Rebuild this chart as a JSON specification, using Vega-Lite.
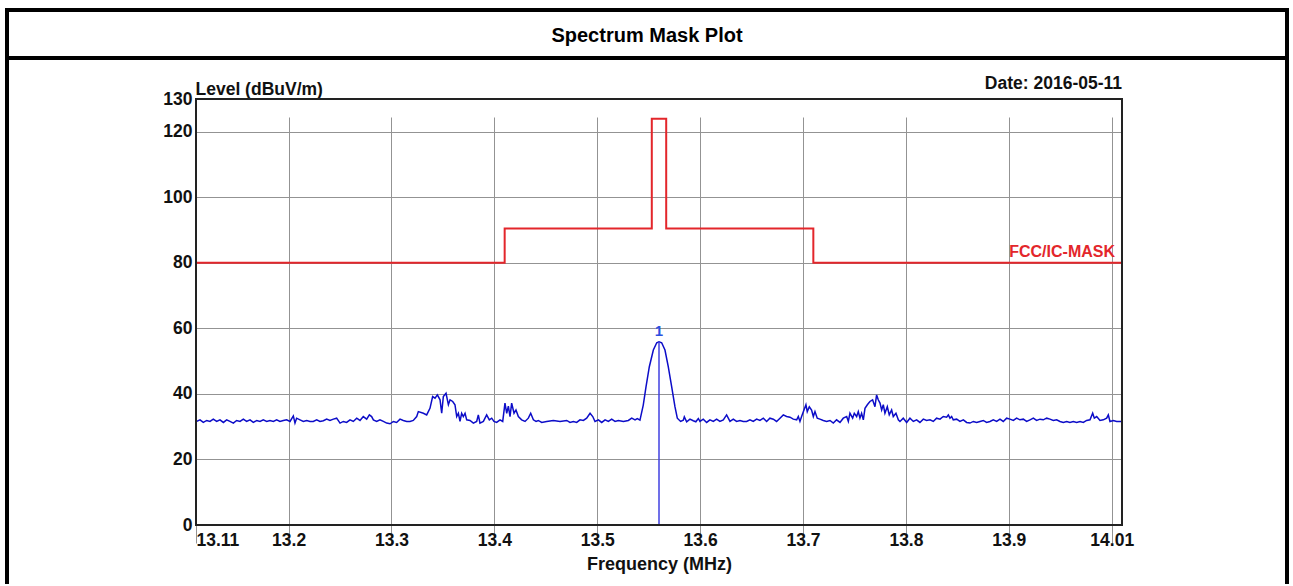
{
  "$schema": "https://vega.github.io/schema/vega-lite/v6.json",
  "background": "white",
  "padding": {"left": 5, "top": 8, "right": 0, "bottom": 0},
  "spacing": 0,
  "bounds": "flush",
  "config": {"font": "Liberation Sans", "view": {"stroke": null}},
  "datasets": {
    "mask": [
      {"i": 0, "f": 13.11, "v": 80}, {"i": 1, "f": 13.41, "v": 80}, {"i": 2, "f": 13.41, "v": 90.5},
      {"i": 3, "f": 13.553, "v": 90.5}, {"i": 4, "f": 13.553, "v": 124}, {"i": 5, "f": 13.567, "v": 124},
      {"i": 6, "f": 13.567, "v": 90.5}, {"i": 7, "f": 13.71, "v": 90.5}, {"i": 8, "f": 13.71, "v": 80},
      {"i": 9, "f": 14.01, "v": 80}
    ],
    "marker": [{"f": 13.56, "v": 55.9, "label": "1"}],
    "trace": [
      {"f": 13.11, "v": 31.8}, {"f": 13.1106, "v": 31.6}, {"f": 13.1139, "v": 32.1}, {"f": 13.1171, "v": 31.3}, {"f": 13.1204, "v": 31.9},
      {"f": 13.1236, "v": 31.6}, {"f": 13.1268, "v": 32.3}, {"f": 13.1301, "v": 31.6}, {"f": 13.1333, "v": 32.1}, {"f": 13.1366, "v": 31.3},
      {"f": 13.1398, "v": 32.1}, {"f": 13.143, "v": 31.6}, {"f": 13.1463, "v": 31.1}, {"f": 13.1495, "v": 31.9}, {"f": 13.1528, "v": 31.6},
      {"f": 13.156, "v": 32.3}, {"f": 13.1592, "v": 31.6}, {"f": 13.1625, "v": 32.1}, {"f": 13.1657, "v": 31.3}, {"f": 13.169, "v": 31.9},
      {"f": 13.1722, "v": 31.6}, {"f": 13.1754, "v": 32.1}, {"f": 13.1787, "v": 31.6}, {"f": 13.1819, "v": 31.9}, {"f": 13.1852, "v": 31.6},
      {"f": 13.1884, "v": 32.1}, {"f": 13.1916, "v": 31.6}, {"f": 13.1949, "v": 31.9}, {"f": 13.1981, "v": 32.1}, {"f": 13.2014, "v": 31.6},
      {"f": 13.2046, "v": 33.3}, {"f": 13.2062, "v": 31.1}, {"f": 13.2078, "v": 32.6}, {"f": 13.2111, "v": 32.1}, {"f": 13.2143, "v": 31.6},
      {"f": 13.2176, "v": 31.9}, {"f": 13.2208, "v": 31.6}, {"f": 13.224, "v": 31.6}, {"f": 13.2273, "v": 32.1}, {"f": 13.2305, "v": 31.6},
      {"f": 13.2338, "v": 31.8}, {"f": 13.237, "v": 32.3}, {"f": 13.2402, "v": 31.9}, {"f": 13.2435, "v": 32.3}, {"f": 13.2467, "v": 32.6},
      {"f": 13.25, "v": 31.1}, {"f": 13.2532, "v": 31.6}, {"f": 13.2564, "v": 31.3}, {"f": 13.2597, "v": 32.1}, {"f": 13.2629, "v": 31.6},
      {"f": 13.2662, "v": 32.6}, {"f": 13.2694, "v": 31.9}, {"f": 13.2726, "v": 33.1}, {"f": 13.2759, "v": 32.3}, {"f": 13.2785, "v": 33.6},
      {"f": 13.2807, "v": 33.1}, {"f": 13.2824, "v": 32.1}, {"f": 13.2856, "v": 31.6}, {"f": 13.2888, "v": 32.1}, {"f": 13.2921, "v": 31.6},
      {"f": 13.2953, "v": 31.1}, {"f": 13.2986, "v": 30.9}, {"f": 13.3018, "v": 31.6}, {"f": 13.305, "v": 31.3}, {"f": 13.3083, "v": 32.3},
      {"f": 13.3115, "v": 31.9}, {"f": 13.3148, "v": 31.6}, {"f": 13.318, "v": 31.6}, {"f": 13.3212, "v": 31.9}, {"f": 13.3245, "v": 33.1},
      {"f": 13.3261, "v": 34.6}, {"f": 13.331, "v": 34.1}, {"f": 13.3342, "v": 33.6}, {"f": 13.3374, "v": 35.6}, {"f": 13.34, "v": 39.2},
      {"f": 13.3423, "v": 38.7}, {"f": 13.3446, "v": 39.7}, {"f": 13.3472, "v": 38.2}, {"f": 13.3488, "v": 34.1}, {"f": 13.3504, "v": 39.2},
      {"f": 13.353, "v": 40.2}, {"f": 13.3553, "v": 36.7}, {"f": 13.3569, "v": 38.2}, {"f": 13.3595, "v": 37.7}, {"f": 13.3617, "v": 36.7},
      {"f": 13.3634, "v": 33.1}, {"f": 13.365, "v": 34.1}, {"f": 13.3666, "v": 31.6}, {"f": 13.3682, "v": 34.1}, {"f": 13.3698, "v": 33.1},
      {"f": 13.3715, "v": 34.1}, {"f": 13.3731, "v": 32.1}, {"f": 13.3763, "v": 31.9}, {"f": 13.3796, "v": 31.1}, {"f": 13.3828, "v": 31.6},
      {"f": 13.3844, "v": 33.6}, {"f": 13.386, "v": 31.1}, {"f": 13.3893, "v": 31.6}, {"f": 13.3925, "v": 33.6}, {"f": 13.3951, "v": 32.1},
      {"f": 13.3974, "v": 32.6}, {"f": 13.3996, "v": 31.6}, {"f": 13.4022, "v": 31.3}, {"f": 13.4055, "v": 32.1}, {"f": 13.4081, "v": 31.6},
      {"f": 13.4103, "v": 37.2}, {"f": 13.412, "v": 34.1}, {"f": 13.4136, "v": 36.3}, {"f": 13.4152, "v": 33.1}, {"f": 13.4168, "v": 37.2},
      {"f": 13.4191, "v": 34.1}, {"f": 13.421, "v": 35.1}, {"f": 13.4233, "v": 33.1}, {"f": 13.4265, "v": 32.1}, {"f": 13.4298, "v": 31.6},
      {"f": 13.433, "v": 32.6}, {"f": 13.4353, "v": 34.1}, {"f": 13.4379, "v": 32.1}, {"f": 13.4405, "v": 31.6}, {"f": 13.4427, "v": 31.9},
      {"f": 13.446, "v": 31.3}, {"f": 13.4508, "v": 31.6}, {"f": 13.4573, "v": 31.9}, {"f": 13.4638, "v": 31.6}, {"f": 13.4703, "v": 31.9},
      {"f": 13.4735, "v": 31.3}, {"f": 13.4768, "v": 31.6}, {"f": 13.48, "v": 31.3}, {"f": 13.4832, "v": 32.1}, {"f": 13.4865, "v": 31.9},
      {"f": 13.4897, "v": 32.6}, {"f": 13.493, "v": 34.1}, {"f": 13.4956, "v": 33.1}, {"f": 13.4978, "v": 31.6}, {"f": 13.5011, "v": 32.1},
      {"f": 13.5043, "v": 31.3}, {"f": 13.5076, "v": 32.1}, {"f": 13.5108, "v": 31.6}, {"f": 13.514, "v": 32.3}, {"f": 13.5173, "v": 31.6},
      {"f": 13.5205, "v": 31.9}, {"f": 13.5254, "v": 31.6}, {"f": 13.5302, "v": 31.9}, {"f": 13.5335, "v": 32.6}, {"f": 13.5367, "v": 32.1},
      {"f": 13.5389, "v": 32.5}, {"f": 13.5415, "v": 32.0}, {"f": 13.5447, "v": 36.6}, {"f": 13.5474, "v": 42.2}, {"f": 13.5506, "v": 48.3},
      {"f": 13.5545, "v": 53.4}, {"f": 13.5578, "v": 55.6}, {"f": 13.56, "v": 55.9}, {"f": 13.5626, "v": 55.6}, {"f": 13.5658, "v": 53.4},
      {"f": 13.569, "v": 48.3}, {"f": 13.5723, "v": 42.2}, {"f": 13.5755, "v": 36.1}, {"f": 13.5778, "v": 32.6}, {"f": 13.581, "v": 31.6},
      {"f": 13.5836, "v": 32.0}, {"f": 13.5846, "v": 33.0}, {"f": 13.5869, "v": 31.5}, {"f": 13.5901, "v": 32.3}, {"f": 13.5933, "v": 31.8},
      {"f": 13.5958, "v": 31.5}, {"f": 13.5982, "v": 32.5}, {"f": 13.5998, "v": 31.6}, {"f": 13.603, "v": 32.3}, {"f": 13.6063, "v": 31.3},
      {"f": 13.6095, "v": 32.1}, {"f": 13.6128, "v": 31.6}, {"f": 13.616, "v": 32.3}, {"f": 13.6192, "v": 31.6}, {"f": 13.6225, "v": 32.1},
      {"f": 13.6257, "v": 33.6}, {"f": 13.629, "v": 31.6}, {"f": 13.6322, "v": 32.3}, {"f": 13.6354, "v": 31.6}, {"f": 13.6387, "v": 31.9},
      {"f": 13.6419, "v": 31.6}, {"f": 13.6452, "v": 31.6}, {"f": 13.6484, "v": 32.1}, {"f": 13.6516, "v": 31.6}, {"f": 13.6549, "v": 32.3},
      {"f": 13.6581, "v": 31.9}, {"f": 13.6614, "v": 32.6}, {"f": 13.6646, "v": 31.6}, {"f": 13.6678, "v": 32.6}, {"f": 13.6711, "v": 32.3},
      {"f": 13.6743, "v": 31.6}, {"f": 13.6776, "v": 32.6}, {"f": 13.6808, "v": 33.6}, {"f": 13.684, "v": 33.1}, {"f": 13.6873, "v": 32.9},
      {"f": 13.6905, "v": 32.3}, {"f": 13.6938, "v": 32.1}, {"f": 13.6954, "v": 33.1}, {"f": 13.697, "v": 31.6}, {"f": 13.6986, "v": 33.1},
      {"f": 13.7009, "v": 35.1}, {"f": 13.7028, "v": 36.7}, {"f": 13.7041, "v": 34.6}, {"f": 13.7061, "v": 36.1}, {"f": 13.7083, "v": 35.1},
      {"f": 13.71, "v": 33.1}, {"f": 13.7116, "v": 34.6}, {"f": 13.7138, "v": 32.6}, {"f": 13.7164, "v": 32.3}, {"f": 13.7197, "v": 31.9},
      {"f": 13.7229, "v": 31.6}, {"f": 13.7262, "v": 31.9}, {"f": 13.7294, "v": 31.1}, {"f": 13.7326, "v": 32.1}, {"f": 13.7359, "v": 31.3},
      {"f": 13.7391, "v": 32.6}, {"f": 13.7424, "v": 33.1}, {"f": 13.744, "v": 31.6}, {"f": 13.7456, "v": 34.1}, {"f": 13.7482, "v": 32.6},
      {"f": 13.7498, "v": 34.1}, {"f": 13.7521, "v": 33.1}, {"f": 13.7537, "v": 34.6}, {"f": 13.7553, "v": 32.6}, {"f": 13.7569, "v": 34.1},
      {"f": 13.7586, "v": 32.1}, {"f": 13.7602, "v": 35.6}, {"f": 13.7625, "v": 36.7}, {"f": 13.765, "v": 37.7}, {"f": 13.7676, "v": 38.2},
      {"f": 13.7699, "v": 36.1}, {"f": 13.7715, "v": 39.7}, {"f": 13.7731, "v": 38.2}, {"f": 13.7748, "v": 37.2}, {"f": 13.7764, "v": 35.1},
      {"f": 13.778, "v": 36.7}, {"f": 13.7796, "v": 34.1}, {"f": 13.7819, "v": 36.1}, {"f": 13.7838, "v": 33.6}, {"f": 13.7861, "v": 35.1},
      {"f": 13.7877, "v": 33.1}, {"f": 13.7903, "v": 34.1}, {"f": 13.7926, "v": 32.1}, {"f": 13.7942, "v": 31.6}, {"f": 13.7974, "v": 32.6},
      {"f": 13.8007, "v": 31.3}, {"f": 13.8039, "v": 32.6}, {"f": 13.8072, "v": 31.6}, {"f": 13.8104, "v": 32.1}, {"f": 13.8136, "v": 31.3},
      {"f": 13.8169, "v": 32.3}, {"f": 13.8201, "v": 31.9}, {"f": 13.8234, "v": 32.1}, {"f": 13.8266, "v": 31.6}, {"f": 13.8298, "v": 32.6},
      {"f": 13.8331, "v": 32.3}, {"f": 13.8363, "v": 33.1}, {"f": 13.8396, "v": 32.9}, {"f": 13.8412, "v": 33.6}, {"f": 13.8428, "v": 32.6},
      {"f": 13.8444, "v": 33.1}, {"f": 13.846, "v": 32.1}, {"f": 13.8493, "v": 32.3}, {"f": 13.8525, "v": 31.6}, {"f": 13.8558, "v": 32.1},
      {"f": 13.859, "v": 31.3}, {"f": 13.8622, "v": 31.1}, {"f": 13.8655, "v": 31.6}, {"f": 13.8687, "v": 31.3}, {"f": 13.872, "v": 31.6},
      {"f": 13.8752, "v": 31.9}, {"f": 13.8784, "v": 31.3}, {"f": 13.8817, "v": 31.6}, {"f": 13.8849, "v": 32.1}, {"f": 13.8882, "v": 31.6},
      {"f": 13.8914, "v": 32.3}, {"f": 13.8946, "v": 31.6}, {"f": 13.8979, "v": 32.6}, {"f": 13.9011, "v": 32.3}, {"f": 13.9044, "v": 31.9},
      {"f": 13.9076, "v": 32.6}, {"f": 13.9108, "v": 32.1}, {"f": 13.9141, "v": 32.3}, {"f": 13.9173, "v": 31.6}, {"f": 13.9206, "v": 32.1},
      {"f": 13.9238, "v": 32.6}, {"f": 13.927, "v": 31.9}, {"f": 13.9303, "v": 32.3}, {"f": 13.9335, "v": 32.1}, {"f": 13.9368, "v": 32.6},
      {"f": 13.94, "v": 32.3}, {"f": 13.9432, "v": 31.9}, {"f": 13.9465, "v": 32.1}, {"f": 13.9497, "v": 31.6}, {"f": 13.953, "v": 31.3},
      {"f": 13.9562, "v": 31.6}, {"f": 13.9594, "v": 31.3}, {"f": 13.9627, "v": 31.6}, {"f": 13.9659, "v": 31.3}, {"f": 13.9692, "v": 31.6},
      {"f": 13.9724, "v": 31.3}, {"f": 13.9756, "v": 31.9}, {"f": 13.9789, "v": 32.1}, {"f": 13.9815, "v": 34.1}, {"f": 13.9831, "v": 32.6},
      {"f": 13.9854, "v": 33.1}, {"f": 13.9886, "v": 31.9}, {"f": 13.9918, "v": 32.1}, {"f": 13.9951, "v": 32.6}, {"f": 13.9967, "v": 33.6},
      {"f": 13.9983, "v": 31.6}, {"f": 14.0016, "v": 31.9}, {"f": 14.0048, "v": 31.6}, {"f": 14.01, "v": 31.6}
    ]
  },
  "vconcat": [
    {
      "width": 1280,
      "height": 48,
      "view": {"stroke": "#000000", "strokeWidth": 4},
      "data": {"values": [{"t": "Spectrum Mask Plot"}]},
      "mark": {"type": "text", "fontSize": 20, "fontWeight": "bold", "color": "#000000", "dy": 2},
      "encoding": {"text": {"field": "t", "type": "nominal"}}
    },
    {
      "width": 1280,
      "height": 526,
      "view": {"stroke": "#000000", "strokeWidth": 4, "strokeDash": [1806, 1280, 600, 0]},
      "encoding": {
        "x": {
          "type": "quantitative",
          "scale": {"domain": [13.11, 14.01], "range": [189, 1115], "nice": false, "zero": false},
          "axis": {
            "values": [13.11, 13.2, 13.3, 13.4, 13.5, 13.6, 13.7, 13.8, 13.9, 14.0],
            "offset": -59, "domain": false, "ticks": false,
            "grid": true, "gridColor": "#939393", "gridWidth": 1,
            "labelExpr": "datum.value > 13.99 ? '14.01' : format(datum.value, '.4~g')",
            "labelAlign": {"condition": {"test": "datum.value < 13.15", "value": "left"}, "value": "center"},
            "labelFontSize": 17.5, "labelFontWeight": "bold", "labelColor": "#111111", "labelPadding": 6,
            "labelOverlap": false, "labelFlush": false,
            "title": "Frequency (MHz)", "titleFontSize": 18, "titleFontWeight": "bold", "titleColor": "#111111", "titlePadding": 7
          }
        },
        "y": {
          "type": "quantitative",
          "scale": {"domain": [0, 130], "range": [467, 41], "nice": false, "zero": false},
          "axis": {
            "values": [0, 20, 40, 60, 80, 100, 120, 130],
            "offset": -189, "domain": false, "ticks": false,
            "grid": true, "gridColor": "#939393", "gridWidth": 1,
            "labelFontSize": 17.5, "labelFontWeight": "bold", "labelColor": "#111111", "labelPadding": 4,
            "labelOverlap": false, "labelFlush": false,
            "title": "Level (dBuV/m)", "titleAngle": 0, "titleAlign": "left", "titleBaseline": "alphabetic",
            "titleX": -1, "titleY": 36, "titleFontSize": 17.5, "titleFontWeight": "bold", "titleColor": "#111111"
          }
        }
      },
      "layer": [
        {
          "data": {"name": "mask"},
          "mark": {"type": "line", "color": "#e3262b", "strokeWidth": 2},
          "encoding": {
            "x": {"field": "f", "type": "quantitative"},
            "y": {"field": "v", "type": "quantitative"},
            "order": {"field": "i", "type": "quantitative"}
          }
        },
        {
          "data": {"name": "trace"},
          "mark": {"type": "line", "color": "#0c0cc8", "strokeWidth": 1.5},
          "encoding": {
            "x": {"field": "f", "type": "quantitative"},
            "y": {"field": "v", "type": "quantitative"}
          }
        },
        {
          "data": {"name": "marker"},
          "mark": {"type": "rule", "color": "#4040e0", "strokeWidth": 1.5},
          "encoding": {
            "x": {"field": "f", "type": "quantitative"},
            "y": {"field": "v", "type": "quantitative"},
            "y2": {"datum": 0}
          }
        },
        {
          "data": {"name": "marker"},
          "mark": {"type": "text", "color": "#2d4fe0", "fontSize": 15, "fontWeight": "bold", "baseline": "bottom", "dy": -3},
          "encoding": {
            "x": {"field": "f", "type": "quantitative"},
            "y": {"field": "v", "type": "quantitative"},
            "text": {"field": "label", "type": "nominal"}
          }
        },
        {
          "data": {"values": [{"name": "FCC/IC-MASK"}]},
          "mark": {"type": "text", "color": "#e3262b", "fontSize": 16, "fontWeight": "bold", "align": "right", "baseline": "alphabetic", "dx": -7, "dy": -6},
          "encoding": {
            "x": {"datum": 14.01, "type": "quantitative"},
            "y": {"datum": 80, "type": "quantitative"},
            "text": {"field": "name", "type": "nominal"}
          }
        },
        {
          "data": {"values": [{"d": "Date: 2016-05-11"}]},
          "mark": {"type": "text", "color": "#111111", "fontSize": 17.5, "fontWeight": "bold", "align": "right", "baseline": "alphabetic", "dy": -10},
          "encoding": {
            "x": {"datum": 14.01, "type": "quantitative"},
            "y": {"datum": 130, "type": "quantitative"},
            "text": {"field": "d", "type": "nominal"}
          }
        },
        {
          "data": {"values": [{"box": "plot"}]},
          "mark": {"type": "rect", "filled": false, "stroke": "#222222", "strokeWidth": 2},
          "encoding": {
            "x": {"datum": 13.11, "type": "quantitative"},
            "x2": {"datum": 14.01},
            "y": {"datum": 0, "type": "quantitative"},
            "y2": {"datum": 130}
          }
        }
      ]
    }
  ]
}
